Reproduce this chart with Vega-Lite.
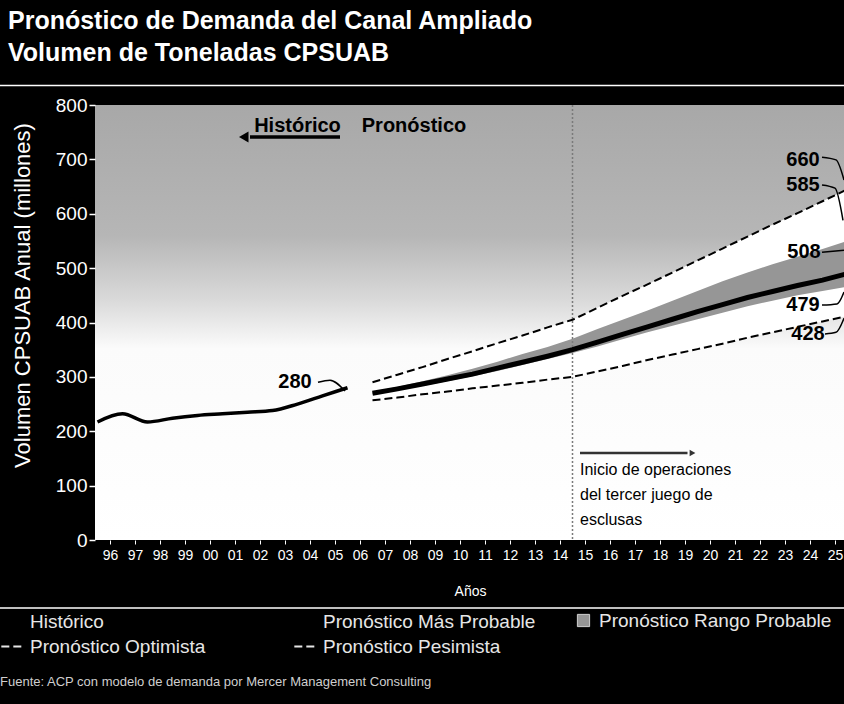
{
  "$schema": "https://vega.github.io/schema/vega-lite/v6.json",
  "width": 750,
  "height": 435,
  "autosize": {"type": "none"},
  "padding": {"left": 95, "top": 105, "right": 0, "bottom": 164},
  "background": "#000000",
  "title": {
    "text": ["Pronóstico de Demanda del Canal Ampliado", "Volumen de Toneladas CPSUAB"],
    "anchor": "start",
    "frame": "group",
    "dx": -87,
    "offset": 19,
    "font": "Liberation Sans",
    "fontSize": 25,
    "fontWeight": "bold",
    "color": "#ffffff",
    "lineHeight": 32
  },
  "config": {
    "font": "Liberation Sans",
    "axisX": {"labelOverlap": false, "labelBound": false, "labelFlush": false},
    "legend": {"direction": "horizontal"},
    "view": {
      "stroke": null,
      "fill": {
        "gradient": "linear", "x1": 0, "y1": 0, "x2": 0, "y2": 1,
        "stops": [
          {"offset": 0, "color": "#a8a8a8"},
          {"offset": 0.3, "color": "#b6b6b6"},
          {"offset": 0.45, "color": "#dadada"},
          {"offset": 0.56, "color": "#fbfbfb"},
          {"offset": 1, "color": "#ffffff"}
        ]
      }
    }
  },
  "datasets": {
    "hist": [
      {"year": 1995, "Histórico": 217},
      {"year": 1996, "Histórico": 232},
      {"year": 1997, "Histórico": 217},
      {"year": 1998, "Histórico": 224},
      {"year": 1999, "Histórico": 229},
      {"year": 2000, "Histórico": 232},
      {"year": 2001, "Histórico": 235},
      {"year": 2002, "Histórico": 238},
      {"year": 2003, "Histórico": 250},
      {"year": 2004, "Histórico": 265},
      {"year": 2005, "Histórico": 280}
    ],
    "fc": [
      {"year": 2006, "Pronóstico Optimista": 290, "Pronóstico Más Probable": 270, "Pronóstico Pesimista": 257, "Pronóstico Rango Probable": 272, "bandLow": 268},
      {"year": 2007, "Pronóstico Optimista": 304, "Pronóstico Más Probable": 278, "Pronóstico Pesimista": 262, "Pronóstico Rango Probable": 282, "bandLow": 275},
      {"year": 2008, "Pronóstico Optimista": 318, "Pronóstico Más Probable": 287, "Pronóstico Pesimista": 268, "Pronóstico Rango Probable": 292, "bandLow": 283},
      {"year": 2009, "Pronóstico Optimista": 333, "Pronóstico Más Probable": 296, "Pronóstico Pesimista": 273, "Pronóstico Rango Probable": 303, "bandLow": 292},
      {"year": 2010, "Pronóstico Optimista": 347, "Pronóstico Más Probable": 305, "Pronóstico Pesimista": 279, "Pronóstico Rango Probable": 315, "bandLow": 301},
      {"year": 2011, "Pronóstico Optimista": 362, "Pronóstico Más Probable": 316, "Pronóstico Pesimista": 284, "Pronóstico Rango Probable": 328, "bandLow": 311},
      {"year": 2012, "Pronóstico Optimista": 376, "Pronóstico Más Probable": 327, "Pronóstico Pesimista": 289, "Pronóstico Rango Probable": 342, "bandLow": 322},
      {"year": 2013, "Pronóstico Optimista": 391, "Pronóstico Más Probable": 338, "Pronóstico Pesimista": 295, "Pronóstico Rango Probable": 355, "bandLow": 333},
      {"year": 2014, "Pronóstico Optimista": 405, "Pronóstico Más Probable": 350, "Pronóstico Pesimista": 300, "Pronóstico Rango Probable": 370, "bandLow": 344},
      {"year": 2015, "Pronóstico Optimista": 427, "Pronóstico Más Probable": 364, "Pronóstico Pesimista": 310, "Pronóstico Rango Probable": 388, "bandLow": 356},
      {"year": 2016, "Pronóstico Optimista": 449, "Pronóstico Más Probable": 378, "Pronóstico Pesimista": 320, "Pronóstico Rango Probable": 405, "bandLow": 369},
      {"year": 2017, "Pronóstico Optimista": 470, "Pronóstico Más Probable": 392, "Pronóstico Pesimista": 331, "Pronóstico Rango Probable": 422, "bandLow": 382},
      {"year": 2018, "Pronóstico Optimista": 492, "Pronóstico Más Probable": 406, "Pronóstico Pesimista": 341, "Pronóstico Rango Probable": 440, "bandLow": 394},
      {"year": 2019, "Pronóstico Optimista": 514, "Pronóstico Más Probable": 420, "Pronóstico Pesimista": 351, "Pronóstico Rango Probable": 458, "bandLow": 406},
      {"year": 2020, "Pronóstico Optimista": 536, "Pronóstico Más Probable": 433, "Pronóstico Pesimista": 361, "Pronóstico Rango Probable": 476, "bandLow": 418},
      {"year": 2021, "Pronóstico Optimista": 558, "Pronóstico Más Probable": 446, "Pronóstico Pesimista": 372, "Pronóstico Rango Probable": 492, "bandLow": 430},
      {"year": 2022, "Pronóstico Optimista": 580, "Pronóstico Más Probable": 457, "Pronóstico Pesimista": 382, "Pronóstico Rango Probable": 507, "bandLow": 440},
      {"year": 2023, "Pronóstico Optimista": 601, "Pronóstico Más Probable": 468, "Pronóstico Pesimista": 392, "Pronóstico Rango Probable": 521, "bandLow": 450},
      {"year": 2024, "Pronóstico Optimista": 623, "Pronóstico Más Probable": 478, "Pronóstico Pesimista": 402, "Pronóstico Rango Probable": 535, "bandLow": 458},
      {"year": 2025, "Pronóstico Optimista": 645, "Pronóstico Más Probable": 490, "Pronóstico Pesimista": 412, "Pronóstico Rango Probable": 550, "bandLow": 466}
    ]
  },
  "layer": [
    {
      "data": {"name": "fc"},
      "mark": {"type": "area", "color": "#ffffff"},
      "encoding": {
        "x": {
          "field": "year", "type": "quantitative",
          "scale": {"domain": [1994.9, 2024.9], "nice": false, "zero": false},
          "title": "Años",
          "axis": {
            "values": [1995.5, 1996.5, 1997.5, 1998.5, 1999.5, 2000.5, 2001.5, 2002.5, 2003.5, 2004.5, 2005.5, 2006.5, 2007.5, 2008.5, 2009.5, 2010.5, 2011.5, 2012.5, 2013.5, 2014.5, 2015.5, 2016.5, 2017.5, 2018.5, 2019.5, 2020.5, 2021.5, 2022.5, 2023.5, 2024.5],
            "tickCount": 60,
            "labelExpr": "substring(toString(floor(datum.value) + 1), 2)",
            "labelColor": "#ffffff", "labelFontSize": 14, "labelOverlap": false, "labelFlush": false, "labelBound": false,
            "labelDx": -4, "labelPadding": 4,
            "tickColor": "#ffffff", "tickSize": 4, "tickWidth": 1,
            "domain": false, "grid": false,
            "titleColor": "#ffffff", "titleFontSize": 14, "titleFontWeight": "normal", "titlePadding": 22
          }
        },
        "y": {
          "field": "Pronóstico Optimista", "type": "quantitative",
          "scale": {"domain": [0, 800], "nice": false},
          "title": "Volumen CPSUAB Anual (millones)",
          "axis": {
            "values": [0, 100, 200, 300, 400, 500, 600, 700, 800],
            "labelColor": "#ffffff", "labelFontSize": 19, "labelPadding": 2,
            "tickColor": "#ffffff", "tickSize": 6, "tickWidth": 1.5,
            "domain": false, "grid": false,
            "titleColor": "#ffffff", "titleFontSize": 22, "titleFontWeight": "normal",
            "titleX": -73, "titleY": 190, "titleAngle": -90, "titleAlign": "center", "titleBaseline": "middle"
          }
        },
        "y2": {"field": "Pronóstico Pesimista"}
      }
    },
    {
      "data": {"name": "fc"},
      "transform": [{"fold": ["Pronóstico Rango Probable"], "as": ["serie", "value"]}],
      "mark": {"type": "area", "opacity": 1},
      "encoding": {
        "x": {"field": "year", "type": "quantitative", "scale": {"domain": [1994.9, 2024.9], "nice": false, "zero": false}, "title": "Años"},
        "y": {"field": "value", "type": "quantitative", "scale": {"domain": [0, 800], "nice": false}, "title": "Volumen CPSUAB Anual (millones)"},
        "y2": {"field": "bandLow"},
        "fill": {
          "field": "serie", "type": "nominal",
          "scale": {"domain": ["Pronóstico Rango Probable"], "range": ["#969696"]},
          "legend": {
            "title": null, "orient": "none", "legendX": 479, "legendY": 506,
            "symbolType": "square", "symbolSize": 150, "symbolStrokeColor": "#d0d0d0", "symbolStrokeWidth": 1,
            "symbolFillColor": "#9a9a9a",
            "labelColor": "#e6e6e6", "labelFontSize": 19, "labelOffset": 6, "labelLimit": 400
          }
        }
      }
    },
    {
      "data": {"values": [{"year": 2014}]},
      "mark": {"type": "rule", "color": "#7a7a7a", "strokeDash": [2, 2], "strokeWidth": 1.5},
      "encoding": {
        "x": {"field": "year", "type": "quantitative", "scale": {"domain": [1994.9, 2024.9], "nice": false, "zero": false}, "title": "Años"}
      }
    },
    {
      "data": {"name": "hist"},
      "mark": {"type": "line", "color": "#000000", "strokeWidth": 3.5, "interpolate": "monotone"},
      "encoding": {
        "x": {"field": "year", "type": "quantitative", "scale": {"domain": [1994.9, 2024.9], "nice": false, "zero": false}, "title": "Años"},
        "y": {"field": "Histórico", "type": "quantitative", "scale": {"domain": [0, 800], "nice": false}, "title": "Volumen CPSUAB Anual (millones)"}
      }
    },
    {
      "data": {"name": "fc"},
      "mark": {"type": "line", "color": "#000000", "strokeWidth": 5},
      "encoding": {
        "x": {"field": "year", "type": "quantitative", "scale": {"domain": [1994.9, 2024.9], "nice": false, "zero": false}, "title": "Años"},
        "y": {"field": "Pronóstico Más Probable", "type": "quantitative", "scale": {"domain": [0, 800], "nice": false}, "title": "Volumen CPSUAB Anual (millones)"}
      }
    },
    {
      "data": {"name": "fc"},
      "transform": [{"fold": ["Pronóstico Optimista", "Pronóstico Pesimista"], "as": ["serie", "value"]}],
      "mark": {"type": "line", "color": "#000000", "strokeWidth": 2},
      "encoding": {
        "x": {"field": "year", "type": "quantitative", "scale": {"domain": [1994.9, 2024.9], "nice": false, "zero": false}, "title": "Años"},
        "y": {"field": "value", "type": "quantitative", "scale": {"domain": [0, 800], "nice": false}, "title": "Volumen CPSUAB Anual (millones)"},
        "strokeDash": {
          "field": "serie", "type": "nominal",
          "scale": {"domain": ["Histórico", "Pronóstico Más Probable", "Pronóstico Optimista", "Pronóstico Pesimista"], "range": [[0, 1000], [0, 1000], [8, 4], [8, 4]]},
          "legend": {
            "title": "Fuente: ACP con modelo de demanda por Mercer Management Consulting",
            "orient": "none", "legendX": -95, "legendY": 504, "direction": "horizontal",
            "columns": 2, "columnPadding": 84, "rowPadding": 2,
            "titleOrient": "bottom", "titleAnchor": "start", "titlePadding": 19,
            "titleColor": "#cfcfcf", "titleFontSize": 13, "titleFontWeight": "normal", "titleLimit": 800,
            "labelColor": "#e6e6e6", "labelFontSize": 19, "labelLimit": 400, "labelOffset": 5,
            "symbolType": "stroke", "symbolSize": 500, "symbolStrokeWidth": 2, "symbolStrokeColor": "#e6e6e6"
          }
        }
      }
    },
    {
      "data": {"values": [
        {"id": "280", "year": 2003.82, "value": 290}, {"id": "280", "year": 2004.3, "value": 294}, {"id": "280", "year": 2004.9, "value": 274},
        {"id": "660", "year": 2023.98, "value": 704}, {"id": "660", "year": 2024.54, "value": 699}, {"id": "660", "year": 2024.86, "value": 662},
        {"id": "585", "year": 2023.98, "value": 653}, {"id": "585", "year": 2024.5, "value": 647}, {"id": "585", "year": 2024.82, "value": 588},
        {"id": "508", "year": 2023.98, "value": 529}, {"id": "508", "year": 2024.86, "value": 533},
        {"id": "479", "year": 2023.98, "value": 432}, {"id": "479", "year": 2024.58, "value": 434}, {"id": "479", "year": 2024.86, "value": 456},
        {"id": "428", "year": 2024.1, "value": 379}, {"id": "428", "year": 2024.54, "value": 382}, {"id": "428", "year": 2024.86, "value": 408}
      ]},
      "mark": {"type": "line", "color": "#000000", "strokeWidth": 1.5, "interpolate": "monotone"},
      "encoding": {
        "x": {"field": "year", "type": "quantitative", "scale": {"domain": [1994.9, 2024.9], "nice": false, "zero": false}, "title": "Años"},
        "y": {"field": "value", "type": "quantitative", "scale": {"domain": [0, 800], "nice": false}, "title": "Volumen CPSUAB Anual (millones)"},
        "detail": {"field": "id", "type": "nominal"}
      }
    },
    {
      "data": {"values": [{"year": 2001.1, "year2": 2004.7, "value": 741}]},
      "mark": {"type": "rule", "color": "#000000", "strokeWidth": 3.5},
      "encoding": {
        "x": {"field": "year", "type": "quantitative", "scale": {"domain": [1994.9, 2024.9], "nice": false, "zero": false}, "title": "Años"},
        "x2": {"field": "year2"},
        "y": {"field": "value", "type": "quantitative", "scale": {"domain": [0, 800], "nice": false}, "title": "Volumen CPSUAB Anual (millones)"}
      }
    },
    {
      "data": {"values": [{"year": 2000.85, "value": 741}]},
      "mark": {"type": "point", "shape": "triangle-left", "filled": true, "color": "#000000", "size": 120, "opacity": 1},
      "encoding": {
        "x": {"field": "year", "type": "quantitative", "scale": {"domain": [1994.9, 2024.9], "nice": false, "zero": false}, "title": "Años"},
        "y": {"field": "value", "type": "quantitative", "scale": {"domain": [0, 800], "nice": false}, "title": "Volumen CPSUAB Anual (millones)"}
      }
    },
    {
      "data": {"values": [{"year": 2014.3, "year2": 2018.6, "value": 160}]},
      "mark": {"type": "rule", "color": "#333333", "strokeWidth": 2.5},
      "encoding": {
        "x": {"field": "year", "type": "quantitative", "scale": {"domain": [1994.9, 2024.9], "nice": false, "zero": false}, "title": "Años"},
        "x2": {"field": "year2"},
        "y": {"field": "value", "type": "quantitative", "scale": {"domain": [0, 800], "nice": false}, "title": "Volumen CPSUAB Anual (millones)"}
      }
    },
    {
      "data": {"values": [{"year": 2018.8, "value": 160}]},
      "mark": {"type": "point", "shape": "triangle-right", "filled": true, "color": "#333333", "size": 45, "opacity": 1},
      "encoding": {
        "x": {"field": "year", "type": "quantitative", "scale": {"domain": [1994.9, 2024.9], "nice": false, "zero": false}, "title": "Años"},
        "y": {"field": "value", "type": "quantitative", "scale": {"domain": [0, 800], "nice": false}, "title": "Volumen CPSUAB Anual (millones)"}
      }
    },
    {
      "data": {"values": [
        {"year": 2003.0, "value": 761, "texto": "Histórico"},
        {"year": 2007.66, "value": 761, "texto": "Pronóstico"},
        {"year": 2002.9, "value": 290, "texto": "280"},
        {"year": 2023.22, "value": 698, "texto": "660"},
        {"year": 2023.22, "value": 653, "texto": "585"},
        {"year": 2023.26, "value": 529, "texto": "508"},
        {"year": 2023.22, "value": 432, "texto": "479"},
        {"year": 2023.42, "value": 379, "texto": "428"}
      ]},
      "mark": {"type": "text", "font": "Liberation Sans", "fontSize": 20, "fontWeight": "bold", "color": "#000000", "align": "center", "baseline": "middle"},
      "encoding": {
        "x": {"field": "year", "type": "quantitative", "scale": {"domain": [1994.9, 2024.9], "nice": false, "zero": false}, "title": "Años"},
        "y": {"field": "value", "type": "quantitative", "scale": {"domain": [0, 800], "nice": false}, "title": "Volumen CPSUAB Anual (millones)"},
        "text": {"field": "texto"}
      }
    },
    {
      "data": {"values": [{"year": 2014.3, "value": 144, "texto": "Inicio de operaciones\ndel tercer juego de\nesclusas"}]},
      "mark": {"type": "text", "font": "Liberation Sans", "fontSize": 16, "color": "#000000", "align": "left", "baseline": "top", "lineBreak": "\n", "lineHeight": 25},
      "encoding": {
        "x": {"field": "year", "type": "quantitative", "scale": {"domain": [1994.9, 2024.9], "nice": false, "zero": false}, "title": "Años"},
        "y": {"field": "value", "type": "quantitative", "scale": {"domain": [0, 800], "nice": false}, "title": "Volumen CPSUAB Anual (millones)"},
        "text": {"field": "texto"}
      }
    },
    {
      "data": {"values": [{"year": 1991.1, "year2": 2025.0, "value": 836}, {"year": 1991.1, "year2": 2025.0, "value": -125}]},
      "mark": {"type": "rule", "color": "#ffffff", "strokeWidth": 1.5, "clip": false},
      "encoding": {
        "x": {"field": "year", "type": "quantitative", "scale": {"domain": [1994.9, 2024.9], "nice": false, "zero": false}, "title": "Años"},
        "x2": {"field": "year2"},
        "y": {"field": "value", "type": "quantitative", "scale": {"domain": [0, 800], "nice": false}, "title": "Volumen CPSUAB Anual (millones)"}
      }
    }
  ]
}
